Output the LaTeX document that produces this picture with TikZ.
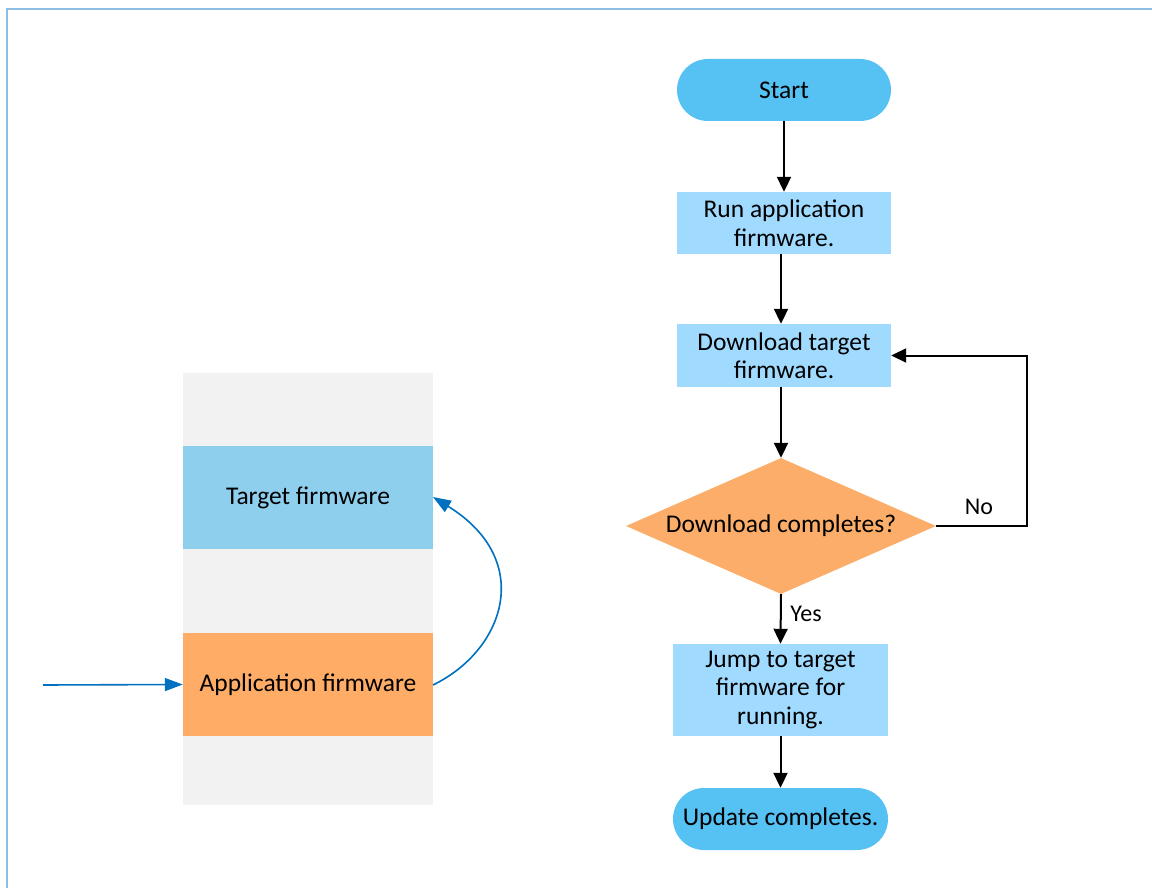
\documentclass[tikz,border=0pt]{standalone}
\usepackage{fontspec}
\setmainfont{Carlito}
\usetikzlibrary{shapes.geometric,arrows.meta}
\definecolor{pillblue}{HTML}{56C1F3}
\definecolor{procblue}{HTML}{A0DBFF}
\definecolor{decorange}{HTML}{FBAD69}
\definecolor{tgtblue}{HTML}{8ECFEE}
\definecolor{apporange}{HTML}{FFAD66}
\definecolor{colgray}{HTML}{F2F2F2}
\definecolor{linkblue}{HTML}{0070C0}
\definecolor{framblue}{HTML}{8DBCE4}
\tikzset{
  txt/.style={font=\fontsize{25.5}{28.5}\selectfont, align=center, inner sep=0pt},
  pill/.style={txt, fill=pillblue, rounded corners=31pt, minimum width=214pt, minimum height=62pt},
  proc/.style={txt, fill=procblue, minimum width=214pt},
  dec/.style={txt, diamond, aspect=2.28, fill=decorange, minimum width=310pt, minimum height=136pt},
  memblk/.style={txt, minimum width=250pt, minimum height=103pt},
  flow/.style={draw=black, line width=2pt, -{Triangle[length=15pt,width=14pt]}},
  link/.style={draw=linkblue, line width=1.6pt, -{Triangle[length=18pt,width=13pt]}},
  lbl/.style={font=\fontsize{24}{28}\selectfont, inner sep=0pt}
}
\begin{document}
\begin{tikzpicture}[x=1pt,y=-1pt]
\useasboundingbox (0,0) rectangle (1152,888);
\draw[framblue, line width=2.5pt] (7,890) -- (7,9) -- (1154,9);
% memory column
\fill[colgray] (183,373) rectangle (433,805);
\node[memblk, fill=tgtblue] (tgt) at (308,497.5) {Target firmware};
\node[memblk, fill=apporange] (app) at (308,684.5) {Application firmware};
\coordinate (inp) at (43,685);
\draw[link] (inp) -- (app.west);
\draw[link] (433,685) .. controls (505,650) and (535,560) .. (433,497);
% flowchart
\node[pill] (start) at (784,90) {Start};
\node[proc, minimum height=62pt] (run) at (784,223) {Run application\\firmware.};
\node[proc, minimum height=63pt] (dl) at (784,355.5) {Download target\\firmware.};
\node[dec] (dia) at (781,526) {Download completes?};
\node[proc, minimum width=215pt, minimum height=92pt] (jump) at (780.5,690) {Jump to target\\firmware for\\running.};
\node[pill, minimum width=215pt] (upd) at (780.5,819) {Update completes.};
\coordinate (loop) at (1027,526);
\draw[flow] (start.south) -- (run.north);
\draw[flow] (run.south -| dia.north) -- (dl.north -| dia.north);
\draw[flow] (dl.south -| dia.north) -- (dia.north);
\draw[flow] (dia.east) -- (loop) |- (dl.east);
\node[lbl] (no) at (979,507) {No};
\draw[flow] (dia.south) -- (jump.north);
\node[lbl] (yes) at (806,614) {Yes};
\draw[flow] (jump.south) -- (upd.north);
\end{tikzpicture}
\end{document}
